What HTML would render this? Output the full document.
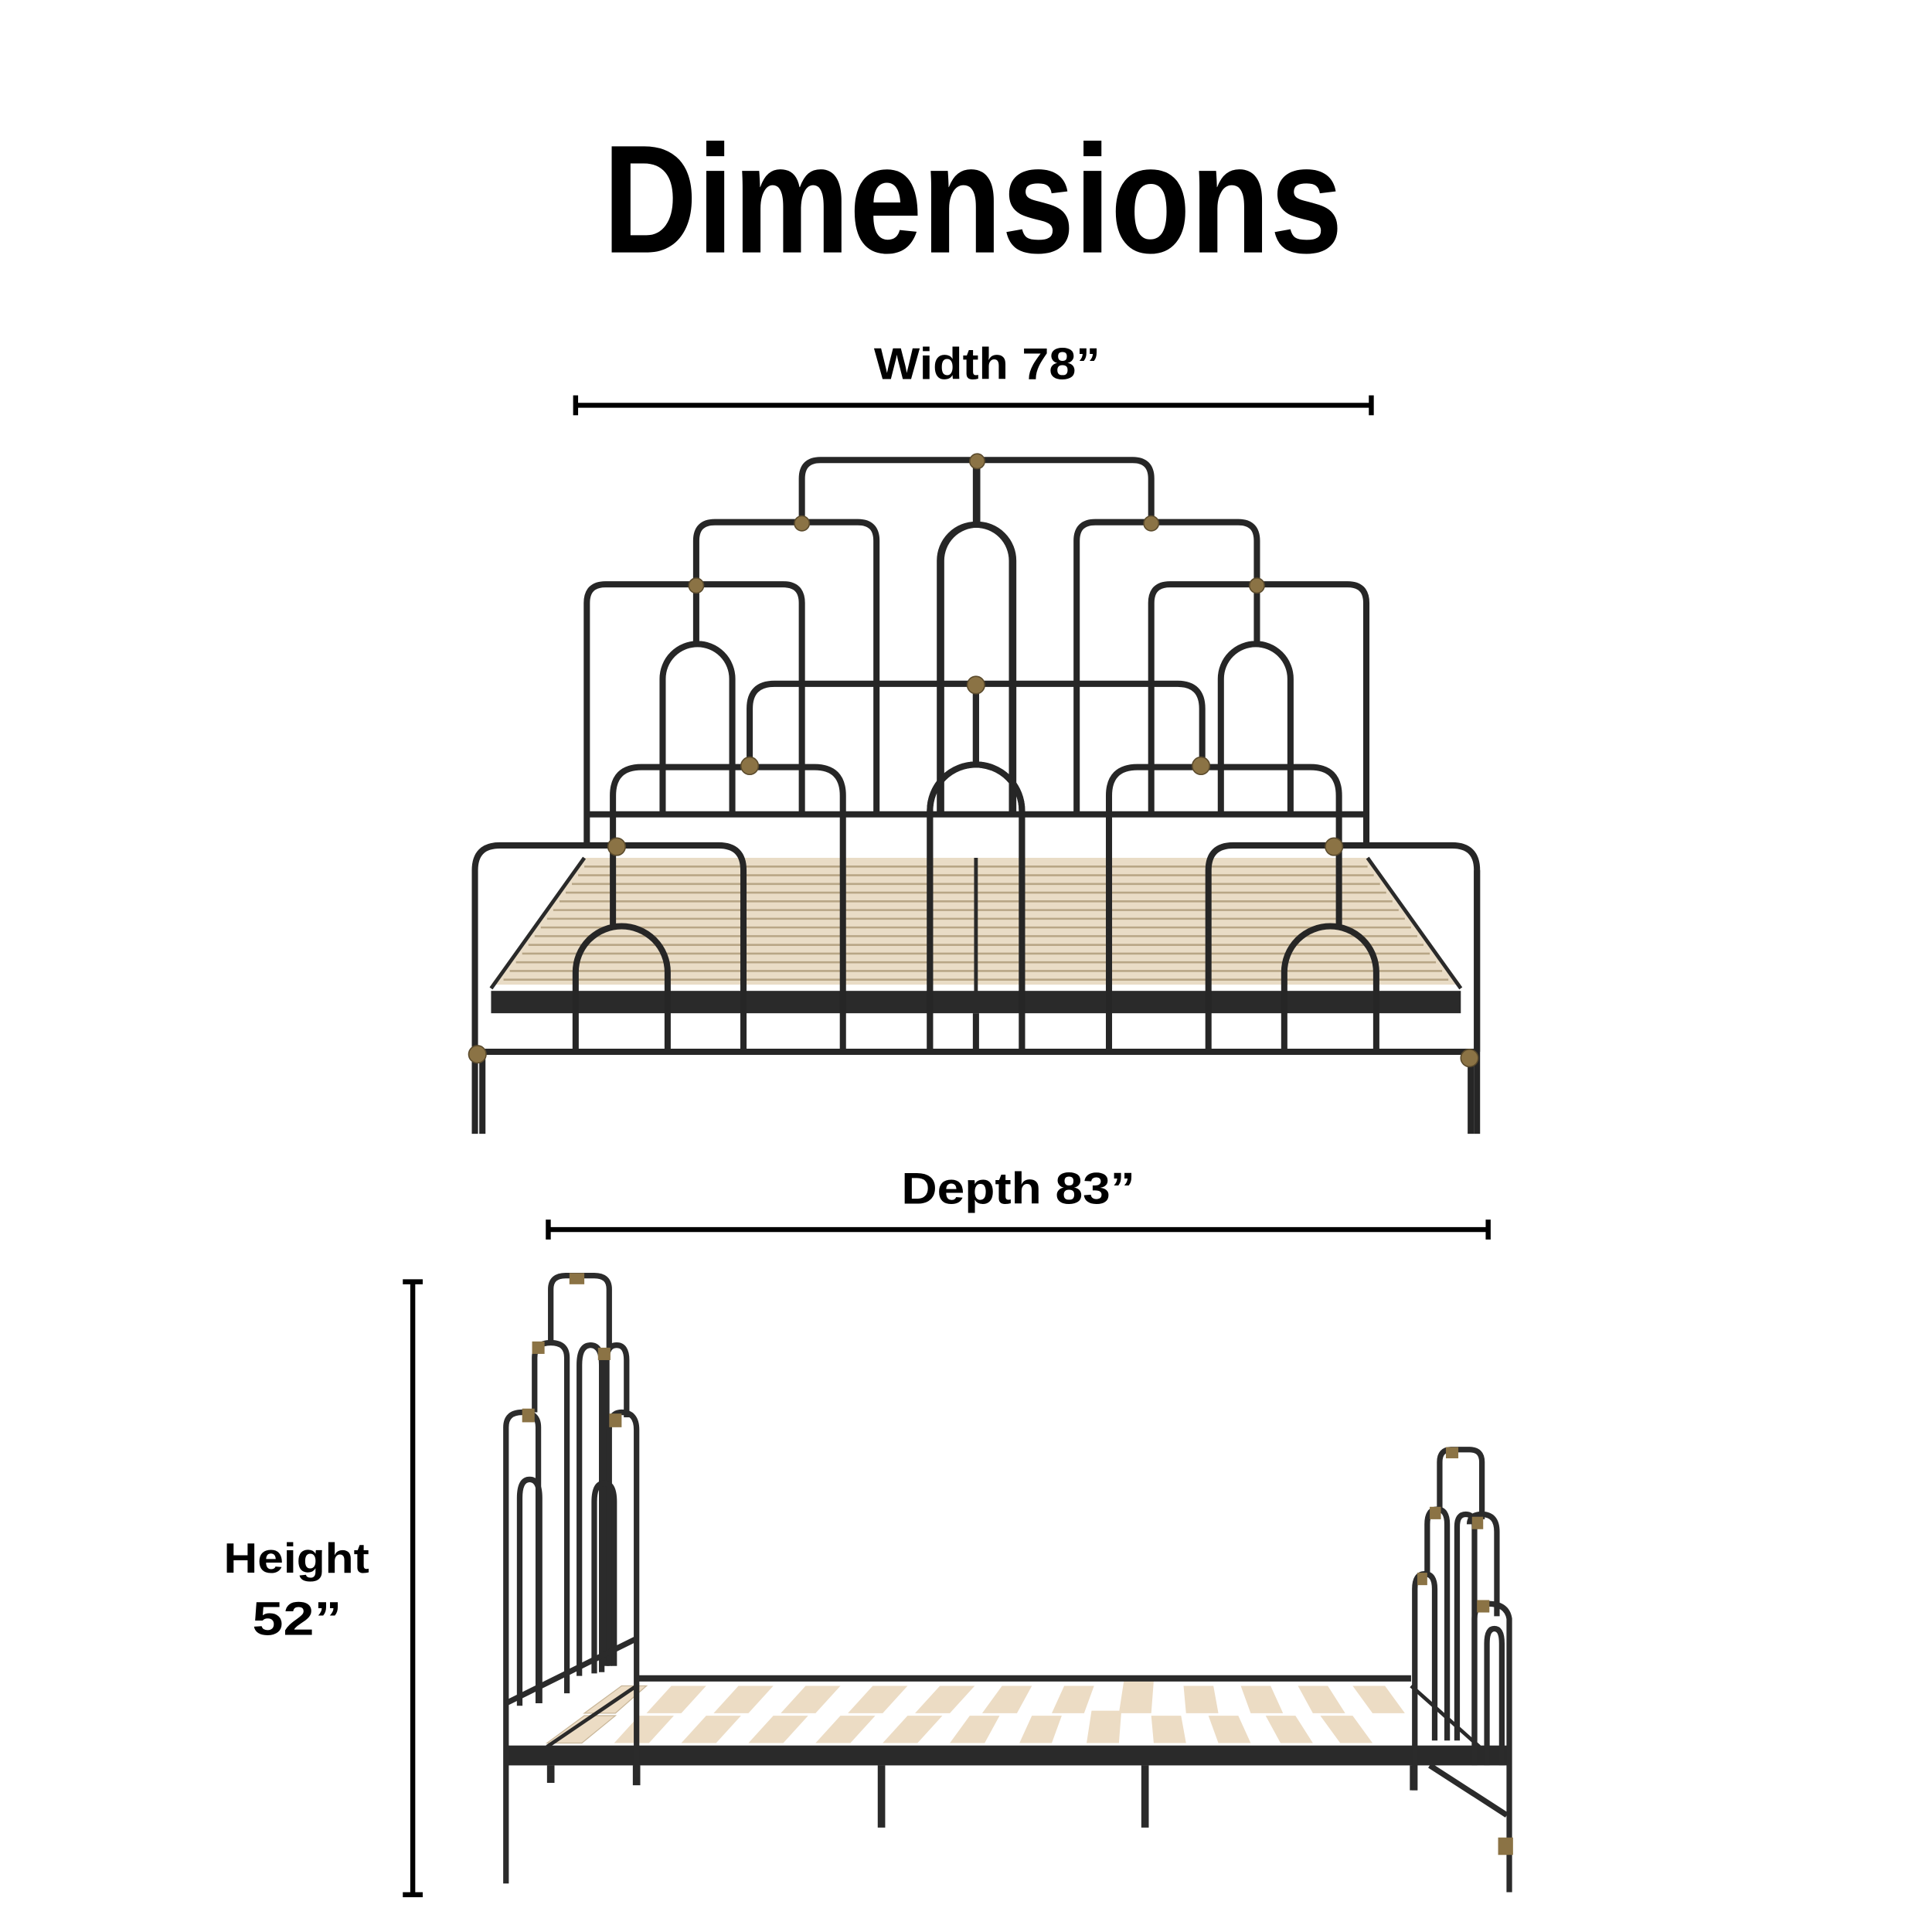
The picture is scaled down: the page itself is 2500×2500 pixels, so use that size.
<!DOCTYPE html>
<html><head><meta charset="utf-8"><style>
html,body{margin:0;padding:0;background:#fff}
svg{display:block}
text{font-family:"Liberation Sans",sans-serif;font-weight:bold;fill:#000}
</style></head><body>
<svg width="2500" height="2500" viewBox="0 0 1554 1554" xmlns="http://www.w3.org/2000/svg">
<rect width="1554" height="1554" fill="#fff"/>
<text x="485" y="203" font-size="124" textLength="595" lengthAdjust="spacingAndGlyphs">Dimensions</text>
<text x="703" y="305" font-size="36" textLength="182" lengthAdjust="spacingAndGlyphs">Width 78”</text>
<g stroke="#000" stroke-width="4"><line x1="463" y1="326" x2="1103" y2="326"/><line x1="463" y1="318" x2="463" y2="334"/><line x1="1103" y1="318" x2="1103" y2="334"/></g>
<text x="725" y="968" font-size="36" textLength="188" lengthAdjust="spacingAndGlyphs">Depth 83”</text>
<g stroke="#000" stroke-width="4"><line x1="441" y1="989" x2="1197" y2="989"/><line x1="441" y1="981" x2="441" y2="997"/><line x1="1197" y1="981" x2="1197" y2="997"/></g>
<g stroke="#000" stroke-width="4"><line x1="332" y1="1031" x2="332" y2="1524"/><line x1="324" y1="1031" x2="340" y2="1031"/><line x1="324" y1="1524" x2="340" y2="1524"/></g>
<text x="180" y="1265" font-size="34" textLength="117" lengthAdjust="spacingAndGlyphs">Height</text>
<text x="203" y="1315" font-size="38" textLength="72" lengthAdjust="spacingAndGlyphs">52”</text>

<!-- FRONT VIEW slats -->
<polygon points="395,792 1175,792 1100,690 470,690" fill="#e9dcc6"/>
<g stroke="#b8a686" stroke-width="1.6">
<line x1="470" y1="697" x2="1100" y2="697"/><line x1="465" y1="704" x2="1105" y2="704"/><line x1="460" y1="711" x2="1110" y2="711"/><line x1="455" y1="718" x2="1115" y2="718"/><line x1="450" y1="725" x2="1120" y2="725"/><line x1="445" y1="732" x2="1125" y2="732"/><line x1="440" y1="739" x2="1130" y2="739"/><line x1="435" y1="746" x2="1135" y2="746"/><line x1="430" y1="753" x2="1140" y2="753"/><line x1="425" y1="760" x2="1145" y2="760"/><line x1="420" y1="767" x2="1150" y2="767"/><line x1="415" y1="774" x2="1155" y2="774"/><line x1="410" y1="781" x2="1160" y2="781"/><line x1="405" y1="788" x2="1165" y2="788"/>
</g>
<g stroke="#2a2a2a" stroke-width="3" fill="none"><line x1="470" y1="690" x2="395" y2="795"/><line x1="1100" y1="690" x2="1175" y2="795"/><line x1="785" y1="690" x2="785" y2="800"/></g>
<rect x="395" y="797" width="780" height="18" fill="#2a2a2a"/>

<g stroke="#262626" stroke-width="5" fill="none" stroke-linejoin="round">
<!-- headboard -->
<path id="hb" d="M645,420 V385 Q645,370 660,370 H785 M560,470 V435 Q560,420 575,420 H690 Q705,420 705,435 V655 M472,680 V485 Q472,470 487,470 H630 Q645,470 645,485 V655 M560,470 V518 M533,655 V546 A28,28 0 0 1 589,546 V655 M786,370 V422 M757,655 V451 A29,29 0 0 1 815,451 V655"/>
<use href="#hb" transform="translate(1571,0) scale(-1,1)"/>
<line x1="472" y1="655" x2="1098" y2="655"/>
<!-- footboard -->
<path id="fb" d="M603,617 V570 Q603,550 623,550 H785 M493,680 V640 Q493,617 516,617 H655 Q678,617 678,640 V848 M382,912 V700 Q382,680 402,680 H578 Q598,680 598,700 V848 M493,680 V745 M463,848 V782 A37,37 0 0 1 537,782 V848 M785,550 V615 M748,848 V652 A37,37 0 0 1 822,652 V848"/>
<use href="#fb" transform="translate(1570,0) scale(-1,1)"/>
<line x1="382" y1="846" x2="1188" y2="846"/>
<line x1="1188" y1="846" x2="1188" y2="700"/>
<line x1="1183" y1="846" x2="1183" y2="912"/>
<line x1="388" y1="846" x2="388" y2="912"/>
<line x1="785" y1="815" x2="785" y2="846"/>
</g>
<g fill="#8b7345" stroke="#5a4a2c" stroke-width="1">
<circle cx="786" cy="371" r="6"/><circle cx="645" cy="421" r="6"/><circle cx="926" cy="421" r="6"/><circle cx="560" cy="471" r="6"/><circle cx="1011" cy="471" r="6"/>
<circle cx="785" cy="551" r="7"/><circle cx="603" cy="616" r="7"/><circle cx="966" cy="616" r="7"/><circle cx="496" cy="681" r="7"/><circle cx="1073" cy="681" r="7"/><circle cx="384" cy="848" r="7"/><circle cx="1182" cy="851" r="7"/>
</g>

<!-- SIDE VIEW -->
<g fill="#ecdcc4" stroke="#c9b79a" stroke-width="0.8">
<polygon points="470,1378 500,1356 520,1356 495,1378"/>
<polygon points="440,1402 470,1380 495,1380 468,1402"/>
</g>
<g id="sl1" fill="#ecdcc4">
<path d="M520,1378 L540,1356 H568 L548,1378Z"/><path d="M574,1378 L594,1356 H622 L602,1378Z"/><path d="M628,1378 L648,1356 H676 L656,1378Z"/><path d="M682,1378 L702,1356 H730 L710,1378Z"/><path d="M736,1378 L756,1356 H784 L764,1378Z"/><path d="M790,1378 L806,1356 H830 L818,1378Z"/><path d="M846,1378 L856,1356 H880 L872,1378Z"/><path d="M900,1378 L904,1352 H928 L926,1378Z"/><path d="M954,1378 L952,1356 H976 L980,1378Z"/><path d="M1006,1378 L998,1356 H1022 L1032,1378Z"/><path d="M1056,1378 L1044,1356 H1068 L1082,1378Z"/><path d="M1104,1378 L1088,1356 H1114 L1130,1378Z"/>
</g>
<use href="#sl1" transform="translate(-26,24)"/>
<g stroke="#2a2a2a" fill="none">
<line x1="512" y1="1350" x2="1135" y2="1350" stroke-width="5"/>
<line x1="512" y1="1356" x2="440" y2="1405" stroke-width="3"/>
<line x1="1135" y1="1356" x2="1190" y2="1405" stroke-width="3"/>
</g>
<rect x="405" y="1404" width="810" height="16" fill="#2a2a2a"/>
<g stroke="#2a2a2a" stroke-width="6" fill="none">
<line x1="709" y1="1420" x2="709" y2="1470"/><line x1="921" y1="1420" x2="921" y2="1470"/>
<line x1="512" y1="1420" x2="512" y2="1436"/><line x1="1137" y1="1420" x2="1137" y2="1440"/><line x1="443" y1="1420" x2="443" y2="1434"/>
</g>
<g stroke="#2b2b2b" stroke-width="4.5" fill="none">
<path d="M407,1515 V1148 Q407,1136 420,1136 Q433,1136 433,1148 V1370"/>
<path d="M430,1136 V1092 Q430,1080 443,1080 Q456,1080 456,1092 V1362"/>
<path d="M443,1080 V1037 Q443,1026 455,1026 H478 Q490,1026 490,1037 V1085"/>
<path d="M466,1348 V1098 Q466,1082 475,1082 Q484,1082 484,1098 V1345"/>
<path d="M488,1340 V1094 Q488,1082 496,1082 Q504,1082 504,1094 V1140"/>
<path d="M490,1340 V1150 Q490,1136 500,1136 Q512,1136 512,1150 V1430"/>
<path d="M418,1372 V1205 Q418,1190 426,1190 Q434,1190 434,1205 V1370"/>
<path d="M478,1346 V1208 Q478,1193 486,1193 Q494,1193 494,1208 V1340"/>
<line x1="407" y1="1370" x2="512" y2="1318"/>
<path d="M1138,1440 V1278 Q1138,1266 1146,1266 Q1154,1266 1154,1278 V1400"/>
<path d="M1148,1266 V1226 Q1148,1214 1156,1214 Q1164,1214 1164,1226 V1400"/>
<path d="M1158,1214 V1176 Q1158,1166 1167,1166 H1182 Q1192,1166 1192,1176 V1222"/>
<path d="M1172,1400 V1228 Q1172,1218 1179,1218 Q1186,1218 1186,1228 V1400"/>
<path d="M1182,1226 Q1182,1218 1192,1218 Q1204,1218 1204,1232 V1300"/>
<path d="M1186,1420 V1302 Q1186,1290 1197,1290 Q1212,1290 1214,1302 V1522"/>
<path d="M1196,1420 V1322 Q1196,1310 1202,1310 Q1208,1310 1208,1322 V1420"/>
<line x1="1150" y1="1420" x2="1212" y2="1460"/>
</g>
<g fill="#8b7345">
<rect x="458" y="1024" width="12" height="9"/><rect x="428" y="1079" width="10" height="10"/><rect x="481" y="1084" width="10" height="10"/>
<rect x="420" y="1133" width="10" height="11"/><rect x="490" y="1137" width="10" height="11"/>
<rect x="1163" y="1164" width="10" height="9"/><rect x="1150" y="1212" width="9" height="10"/><rect x="1184" y="1220" width="9" height="10"/><rect x="1140" y="1265" width="8" height="10"/><rect x="1188" y="1287" width="10" height="10"/><rect x="1205" y="1478" width="12" height="14"/>
</g>
</svg>
</body></html>
